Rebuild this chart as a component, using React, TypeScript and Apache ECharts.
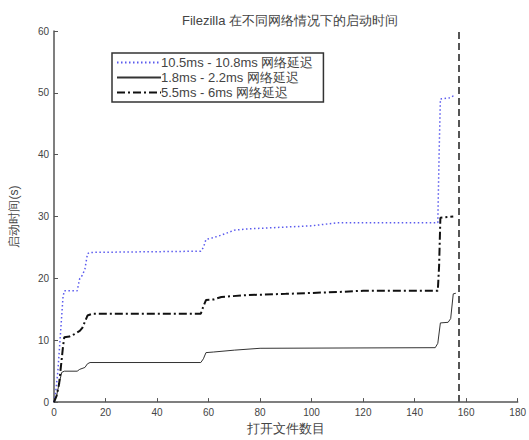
import React, { useEffect, useRef } from "react";
import * as echarts from "echarts";

const titleText = "Filezilla 在不同网络情况下的启动时间";
const xAxisName = "打开文件数目";
const yAxisName = "启动时间(s)";
const seriesNames = ["10.5ms - 10.8ms 网络延迟", "1.8ms - 2.2ms 网络延迟", "5.5ms - 6ms 网络延迟"];

const blueX = [0, 0.5, 1, 1.5, 2, 2.5, 3, 3.5, 4, 9, 10, 11, 12, 13, 14, 57, 58, 59, 62, 65, 70, 75, 85, 100, 110, 149, 149.5, 150, 154, 155, 156];
const blueY = [0, 1, 3, 5, 8, 11, 14, 17, 18, 18, 20, 20.5, 21.5, 24, 24.2, 24.4, 25, 26.3, 26.6, 27, 27.8, 28, 28.2, 28.5, 29, 29, 40, 49, 49.2, 49.5, 49.5];

const solidX = [0, 1, 2, 3, 4, 9, 10, 12, 13, 14, 57, 58, 59, 62, 70, 80, 148, 149, 150, 153, 154, 155, 156];
const solidY = [0, 1, 3, 4.8, 5, 5, 5.3, 5.6, 6.2, 6.4, 6.4, 7, 8, 8.1, 8.4, 8.7, 8.8, 9.5, 12.8, 12.9, 13.5, 17.5, 17.6];

const dashX = [0, 1, 2, 3, 3.5, 4, 6, 8, 10, 11, 12, 13, 15, 57, 58, 59, 62, 65, 75, 90, 110, 120, 149, 149.5, 150, 155];
const dashY = [0, 1, 3, 7, 9, 10.5, 10.6, 11, 11.5, 12, 13, 14, 14.3, 14.3, 15.5, 16.5, 16.6, 17, 17.3, 17.5, 17.8, 18, 18, 22, 29.8, 30];

const markX = 157;
const xTicks = { min: 0, max: 180, interval: 20 };
const yTicks = { min: 0, max: 60, interval: 10 };

const zip = (xs: number[], ys: number[]) => xs.map((x, i) => [x, ys[i]]);

export default function App() {
  const ref = useRef<HTMLDivElement>(null);
  useEffect(() => {
    if (!ref.current) return;
    const chart = echarts.init(ref.current, undefined, { renderer: "svg" });
    const font = "Liberation Sans, Arial, sans-serif";
    chart.setOption({
      animation: false,
      backgroundColor: "#fff",
      title: {
        text: titleText,
        left: 285,
        textAlign: "center",
        top: 9,
        textStyle: { fontSize: 13, fontWeight: "normal", color: "#444", fontFamily: font },
      },
      legend: {
        orient: "vertical",
        left: 112,
        top: 53,
        padding: [3, 10, 3, 4],
        itemGap: 2,
        itemWidth: 44,
        itemHeight: 13,
        borderColor: "#333",
        borderWidth: 1.5,
        itemStyle: { opacity: 0 },
        textStyle: { fontSize: 13, color: "#444", fontFamily: font, padding: [0, 0, 0, -5] },
        data: seriesNames,
      },
      grid: { left: 52, right: 5, top: 31, bottom: 33, containLabel: false },
      xAxis: {
        type: "value",
        ...xTicks,
        name: xAxisName,
        nameLocation: "middle",
        nameGap: 19,
        nameTextStyle: { fontSize: 13, color: "#444", fontFamily: font },
        axisLine: { lineStyle: { color: "#555", width: 1.5 } },
        axisTick: { inside: true, length: 4, lineStyle: { color: "#555" } },
        axisLabel: { fontSize: 10, color: "#444", fontFamily: font, margin: 5 },
        splitLine: { show: false },
      },
      yAxis: {
        type: "value",
        ...yTicks,
        name: yAxisName,
        nameLocation: "middle",
        nameGap: 34,
        nameTextStyle: { fontSize: 12, color: "#444", fontFamily: font },
        axisLine: { show: true, lineStyle: { color: "#555", width: 1.5 } },
        axisTick: { show: true, inside: true, length: 4, lineStyle: { color: "#555" } },
        axisLabel: { fontSize: 10, color: "#444", fontFamily: font, margin: 5 },
        splitLine: { show: false },
      },
      series: [
        {
          name: seriesNames[0],
          type: "line",
          data: zip(blueX, blueY),
          showSymbol: false,
          symbol: "none",
          lineStyle: { color: "#5a5aee", width: 1.5, type: [1.5, 2.5] },
          itemStyle: { color: "#5a5aee" },
        },
        {
          name: seriesNames[1],
          type: "line",
          data: zip(solidX, solidY),
          showSymbol: false,
          symbol: "none",
          lineStyle: { color: "#333", width: 1 },
          itemStyle: { color: "#333" },
          markLine: {
            silent: true,
            symbol: "none",
            label: { show: false },
            lineStyle: { color: "#555", width: 2, type: [7, 4] },
            data: [{ xAxis: markX }],
          },
        },
        {
          name: seriesNames[2],
          type: "line",
          data: zip(dashX, dashY),
          showSymbol: false,
          symbol: "none",
          lineStyle: { color: "#111", width: 2, type: [8, 3, 2, 3] },
          itemStyle: { color: "#111" },
        },
      ],
    });
    return () => chart.dispose();
  }, []);
  return <div ref={ref} style={{ width: 529, height: 440, position: "absolute", left: 0, top: 0 }} />;
}
